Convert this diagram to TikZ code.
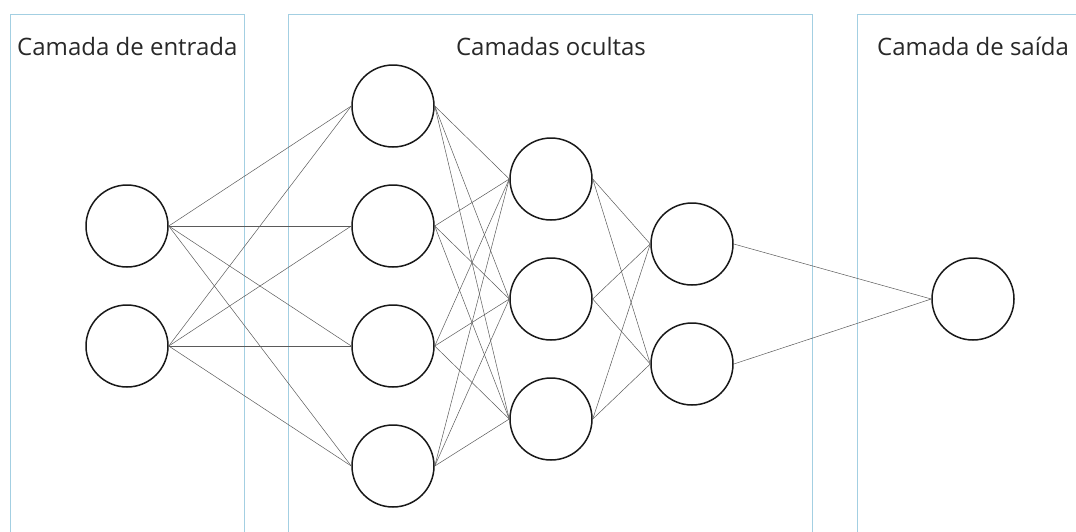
\documentclass[tikz,border=0pt]{standalone}
\usepackage{fontspec}
\setmainfont{Open Sans}
\definecolor{panelblue}{RGB}{163,207,226}
\definecolor{linkgray}{RGB}{90,90,90}
\definecolor{labelgray}{RGB}{40,40,40}
\begin{document}
\begin{tikzpicture}[x=1pt,y=-1pt,
  neuron/.style={circle,draw=black!90,line width=1.5pt,minimum size=82pt,inner sep=0pt},
  panel/.style={draw=panelblue,line width=1pt},
  link/.style={draw=linkgray,line width=0.5pt},
  title/.style={font=\fontsize{24}{28}\selectfont,text=labelgray,inner sep=0pt}]
\useasboundingbox (0,0) rectangle (1076,531);
% layer panels (open at the bottom)
\draw[panel] (10,534) -- (10,14) -- (244,14) -- (244,534);
\draw[panel] (288,534) -- (288,14) -- (812,14) -- (812,534);
\draw[panel] (857,534) -- (857,14) -- (1080,14);
% panel titles
\node[title,anchor=base west] (tin) at (17,55) {Camada de entrada};
\node[title,anchor=base] (thid) at (551,55) {Camadas ocultas};
\node[title,anchor=base west] (tout) at (877,55) {Camada de saída};
% neurons
\node[neuron] (i1) at (127,226) {};
\node[neuron] (i2) at (127,346) {};
\foreach \k/\y in {1/106,2/226,3/346,4/466} \node[neuron] (a\k) at (393,\y) {};
\foreach \k/\y in {1/179,2/299,3/419} \node[neuron] (b\k) at (551,\y) {};
\foreach \k/\y in {1/244,2/364} \node[neuron] (c\k) at (692,\y) {};
\node[neuron] (o1) at (973,299) {};
% connections between consecutive layers
\foreach \s in {1,2} \foreach \t in {1,...,4} \draw[link] (i\s.east) -- (a\t.west);
\foreach \s in {1,...,4} \foreach \t in {1,2,3} \draw[link] (a\s.east) -- (b\t.west);
\foreach \s in {1,2,3} \foreach \t in {1,2} \draw[link] (b\s.east) -- (c\t.west);
\foreach \s in {1,2} \draw[link] (c\s.east) -- (o1.west);
\end{tikzpicture}
\end{document}
